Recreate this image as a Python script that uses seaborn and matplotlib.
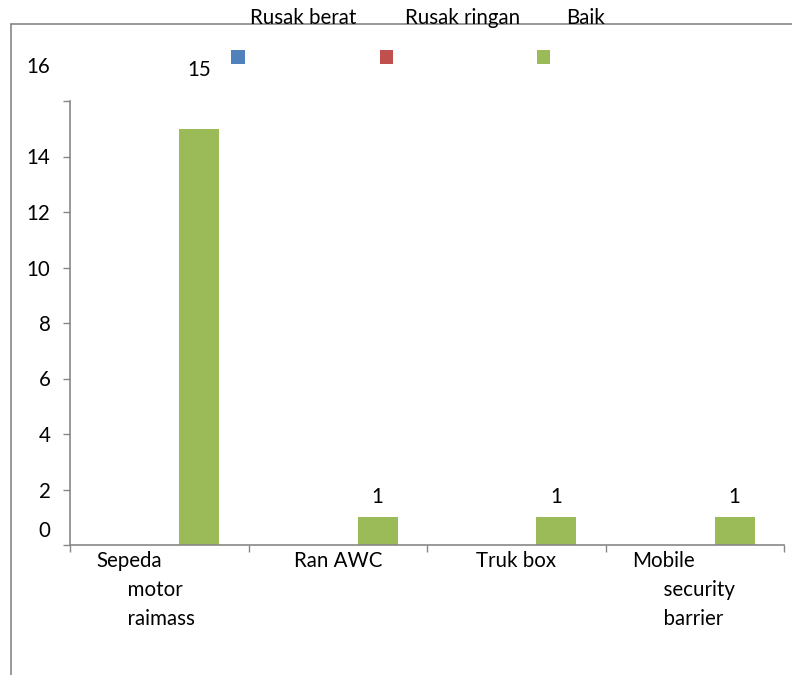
import matplotlib
matplotlib.use("Agg")
import matplotlib.pyplot as plt
import matplotlib.transforms as mtransforms
from matplotlib.lines import Line2D
from matplotlib.patches import Rectangle
import seaborn as sns
import pandas as pd

# Vehicle condition counts per category
categories = ["Sepeda motor raimass", "Ran AWC", "Truk box", "Mobile security barrier"]
tick_labels = ["Sepeda\n      motor\n      raimass", "Ran AWC", "Truk box",
               "Mobile\n      security\n      barrier"]
series_names = ["Rusak berat", "Rusak ringan", "Baik"]
rusak_berat = [0, 0, 0, 0]
rusak_ringan = [0, 0, 0, 0]
baik = [15, 1, 1, 1]
y_ticks = [0, 2, 4, 6, 8, 10, 12, 14, 16]

colors = ["#4F81BD", "#C0504D", "#9BBB59"]

df = pd.DataFrame({
    "kategori": categories * 3,
    "kondisi": [s for s in series_names for _ in categories],
    "jumlah": rusak_berat + rusak_ringan + baik,
})

sns.set_theme(style="white")
plt.rcParams["font.family"] = ["Lato", "DejaVu Sans"]

FS = 14.8
W, H = 792, 675
fig = plt.figure(figsize=(W / 100, H / 100), dpi=100)
ax = fig.add_axes([70 / W, (H - 545) / H, (784 - 70) / W, (545 - 101) / H])

sns.barplot(data=df, x="kategori", y="jumlah", hue="kondisi", hue_order=series_names,
            palette=colors, width=0.672, errorbar=None, linewidth=0, ax=ax,
            legend=False, saturation=1)

ax.set_ylim(0, 16)
ax.set_xlim(-0.5, len(categories) - 0.5)
ax.set_xlabel("")
ax.set_ylabel("")

spine_col = "#878787"
for side in ["top", "right"]:
    ax.spines[side].set_visible(False)
for side in ["left", "bottom"]:
    ax.spines[side].set_color(spine_col)
    ax.spines[side].set_linewidth(1.2)

ax.set_yticks(y_ticks)
ax.set_yticklabels([str(v) for v in y_ticks])
ax.tick_params(axis="y", direction="out", length=5, width=1.0, color=spine_col,
               pad=9, labelsize=FS, labelcolor="black", left=True)

# Category boundaries carry the x tick marks
ax.set_xticks([-0.5, 0.5, 1.5, 2.5, 3.5], minor=True)
ax.tick_params(axis="x", which="minor", direction="out", length=5, width=1.0,
               color=spine_col, bottom=True)
ax.set_xticks(range(len(categories)))
ax.set_xticklabels(tick_labels)
ax.tick_params(axis="x", which="major", length=0, pad=4, labelsize=FS, labelcolor="black")

px = 1 / 100
for lab in ax.get_xticklabels():
    txt = lab.get_text()
    lab.set_linespacing(1.58)
    if "\n" in txt:
        lab.set_ha("left")
        lab.set_multialignment("left")
        lab.set_transform(lab.get_transform() +
                          mtransforms.ScaledTranslation(-63 * px, 0, fig.dpi_scale_trans))

# Outermost y labels sit higher than their ticks
ylabs = ax.get_yticklabels()
ylabs[-1].set_transform(ylabs[-1].get_transform() +
                        mtransforms.ScaledTranslation(0, 36 * px, fig.dpi_scale_trans))
ylabs[0].set_transform(ylabs[0].get_transform() +
                       mtransforms.ScaledTranslation(0, 16 * px, fig.dpi_scale_trans))

# Value labels on the "Baik" bars
label_offsets = [59, 20, 20, 20]
for i, v in enumerate(baik):
    off = mtransforms.ScaledTranslation(0, label_offsets[i] * px, fig.dpi_scale_trans)
    ax.text(i + 0.224, v, str(v), ha="center", va="center", fontsize=FS,
            color="black", transform=ax.transData + off)

# Outer chart frame (left and top edges)
fig.add_artist(Line2D([11 / W, 11 / W], [0, (H - 24) / H], color=spine_col, lw=1.2))
fig.add_artist(Line2D([11 / W, 1], [(H - 24) / H, (H - 24) / H], color=spine_col, lw=1.2))

# Legend: names above their colour swatches
legend_text_x = [303, 463, 586]
legend_box_x = [238, 386, 543]
for name, col, tx, bx in zip(series_names, colors, legend_text_x, legend_box_x):
    fig.text(tx / W, (H - 18) / H, name, ha="center", va="center", fontsize=FS, color="black")
    fig.add_artist(Rectangle(((bx - 6.5) / W, (H - 63.5) / H), 13 / W, 13 / H,
                             transform=fig.transFigure, facecolor=col, edgecolor="none"))

fig.savefig("out.png", dpi=100)
